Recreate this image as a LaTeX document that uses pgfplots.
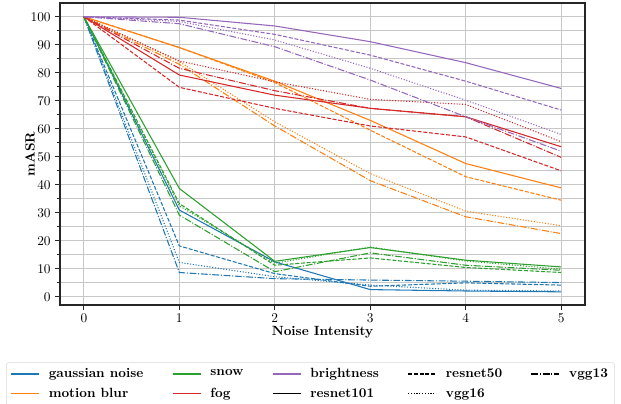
\documentclass[border=0pt]{standalone}
\usepackage{pgfplots}
\pgfplotsset{compat=1.18}
\usetikzlibrary{calc}

\definecolor{tblue}{HTML}{1F77B4}
\definecolor{torange}{HTML}{FF7F0E}
\definecolor{tgreen}{HTML}{2CA02C}
\definecolor{tred}{HTML}{D62728}
\definecolor{tpurple}{HTML}{9467BD}

\tikzset{
  mdash/.style={dash pattern=on 3pt off 1.3pt},
  mdot/.style={dash pattern=on 0.8pt off 1.3pt},
  mdashdot/.style={dash pattern=on 5.1pt off 1.3pt on 0.8pt off 1.3pt},
}

\begin{document}
\begin{tikzpicture}
\begin{axis}[
    scale only axis,
    width=393.75pt, height=226.5pt,
    xmin=-0.25, xmax=5.25, ymin=-2.9, ymax=104.9,
    xtick={0,1,2,3,4,5},
    ytick={0,10,...,100},
    minor ytick={5,15,...,95},
    grid=both,
    major grid style={black!22, line width=0.8pt},
    minor grid style={black!22, line width=0.8pt},
    tick align=outside, tick pos=left,
    major tick length=3.5pt, minor tick length=2pt,
    axis line style={black!85, line width=0.8pt},
    every tick/.style={black!85, line width=0.6pt},
    xlabel={\textbf{Noise Intensity}},
    ylabel={\textbf{mASR}},
    xlabel style={at={(axis description cs:0.5,-0.089)}, anchor=center},
    ylabel style={at={(axis description cs:-0.057,0.5)}, anchor=center},
    every axis plot/.append style={line width=0.8pt},
    legend columns=5,
    legend cell align=left,
    legend style={at={(1.057,-0.189)}, anchor=north east, font=\bfseries,
        draw=black!15, rounded corners=2pt, inner xsep=3pt, inner ysep=2.5pt,
        row sep=2.5pt,
        /tikz/every odd column/.append style={column sep=5pt},
        /tikz/every even column/.append style={column sep=19.5pt},
        /tikz/column 10/.append style={column sep=0pt}},
    legend image code/.code={\draw[#1] (0pt,0pt) -- (21pt,0pt);},
]
% gaussian noise
\addplot[tblue, forget plot] coordinates {(0,100) (1,31) (2,12.5) (3,2.6) (4,2.1) (5,1.8)};
\addplot[tblue, mdash, forget plot] coordinates {(0,100) (1,18.2) (2,8.3) (3,3.8) (4,5.0) (5,4.2)};
\addplot[tblue, mdot, forget plot] coordinates {(0,100) (1,12.3) (2,7.2) (3,4.2) (4,2.4) (5,2.1)};
\addplot[tblue, mdashdot, forget plot] coordinates {(0,100) (1,8.7) (2,6.5) (3,6.0) (4,5.6) (5,5.1)};
% motion blur
\addplot[torange, forget plot] coordinates {(0,100) (1,89) (2,77) (3,63) (4,47.6) (5,38.9)};
\addplot[torange, mdash, forget plot] coordinates {(0,100) (1,89) (2,76.5) (3,59.5) (4,42.9) (5,34.5)};
\addplot[torange, mdot, forget plot] coordinates {(0,100) (1,84) (2,62.5) (3,44) (4,30.6) (5,25.4)};
\addplot[torange, mdashdot, forget plot] coordinates {(0,100) (1,83) (2,61) (3,41.5) (4,28.6) (5,22.6)};
% snow
\addplot[tgreen, forget plot] coordinates {(0,100) (1,38.7) (2,12.7) (3,17.6) (4,13.1) (5,10.7)};
\addplot[tgreen, mdash, forget plot] coordinates {(0,100) (1,33.3) (2,11.3) (3,13.9) (4,10.5) (5,8.7)};
\addplot[tgreen, mdot, forget plot] coordinates {(0,100) (1,32.5) (2,12) (3,17.8) (4,12.8) (5,9.9)};
\addplot[tgreen, mdashdot, forget plot] coordinates {(0,100) (1,29.2) (2,9.0) (3,15.7) (4,11.3) (5,9.5)};
% fog
\addplot[tred, forget plot] coordinates {(0,100) (1,79.2) (2,72) (3,67.3) (4,64.3) (5,53.6)};
\addplot[tred, mdash, forget plot] coordinates {(0,100) (1,74.8) (2,67.3) (3,61) (4,57.1) (5,45)};
\addplot[tred, mdot, forget plot] coordinates {(0,100) (1,84.2) (2,76.8) (3,70.5) (4,68.7) (5,55.4)};
\addplot[tred, mdashdot, forget plot] coordinates {(0,100) (1,81.6) (2,73.6) (3,67.3) (4,64.3) (5,49.8)};
% brightness
\addplot[tpurple, forget plot] coordinates {(0,100) (1,99.8) (2,96.7) (3,91.1) (4,83.6) (5,74.4)};
\addplot[tpurple, mdash, forget plot] coordinates {(0,100) (1,98.8) (2,93.7) (3,86.3) (4,77) (5,66.7)};
\addplot[tpurple, mdot, forget plot] coordinates {(0,100) (1,98.3) (2,91.7) (3,81.6) (4,70.2) (5,58)};
\addplot[tpurple, mdashdot, forget plot] coordinates {(0,100) (1,97.5) (2,89.3) (3,77.4) (4,64.3) (5,52)};

% legend, row by row
\addlegendimage{tblue, line width=0.8pt}
\addlegendentry{gaussian noise}
\addlegendimage{tgreen, line width=0.8pt}
\addlegendentry{snow}
\addlegendimage{tpurple, line width=0.8pt}
\addlegendentry{brightness}
\addlegendimage{black, mdash, line width=0.8pt}
\addlegendentry{resnet50}
\addlegendimage{black, mdashdot, line width=0.8pt}
\addlegendentry{vgg13}
\addlegendimage{torange, line width=0.8pt}
\addlegendentry{motion blur}
\addlegendimage{tred, line width=0.8pt}
\addlegendentry{fog}
\addlegendimage{black, line width=0.8pt}
\addlegendentry{resnet101}
\addlegendimage{black, mdot, line width=0.8pt}
\addlegendentry{vgg16}
\end{axis}
% page margins as in the reference
\pgfresetboundingbox
\path ($(current axis.south west)+(-45pt,-73.5pt)$) rectangle ($(current axis.north east)+(27pt,2.25pt)$);
\end{tikzpicture}
\end{document}
